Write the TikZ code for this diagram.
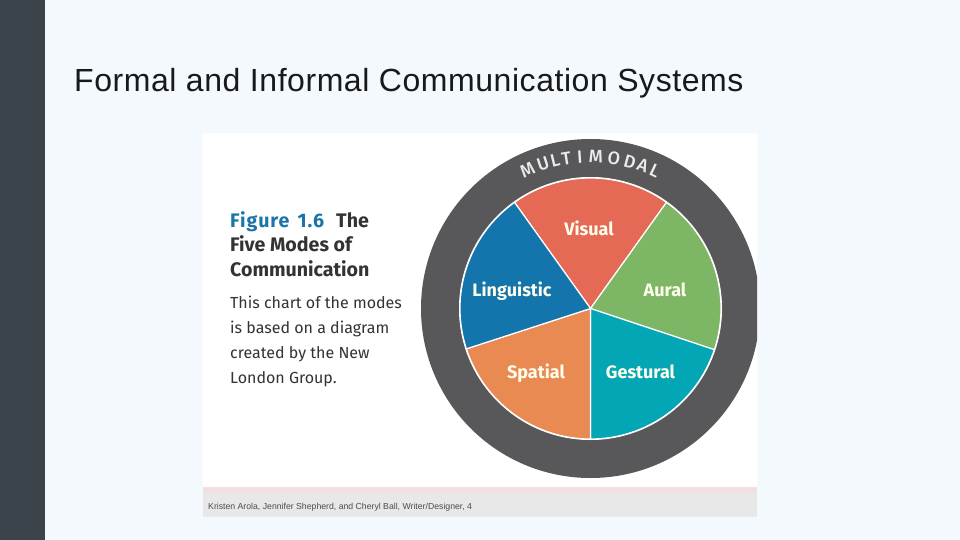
\documentclass[tikz,border=0pt]{standalone}
\usepackage{fontspec}
\usetikzlibrary{calc}
\setmainfont{Liberation Sans}
\newfontfamily\figfont{Fira Sans}
\newfontfamily\ringfont{Fira Sans Medium}
\definecolor{slidebg}{HTML}{F4F9FD}
\definecolor{sidebar}{HTML}{3B444B}
\definecolor{ringgrey}{HTML}{58585A}
\definecolor{visualred}{HTML}{E46A56}
\definecolor{auralgreen}{HTML}{7DB765}
\definecolor{gesturalteal}{HTML}{03A6B5}
\definecolor{spatialorange}{HTML}{E88A52}
\definecolor{linguisticblue}{HTML}{1474AC}
\definecolor{figblue}{HTML}{1B75A8}
\definecolor{figtext}{HTML}{333333}
\definecolor{bandpink}{HTML}{F3DFE1}
\definecolor{bandgrey}{HTML}{E8E8E9}
\tikzset{
  modelabel/.style={font=\figfont\fontsize{18}{18}\selectfont\bfseries,text=white!93!yellow,inner sep=0pt},
  wedge/.style={draw=white,line width=1.2pt},
  ringletter/.style={font=\ringfont\fontsize{18}{18}\selectfont,text=white!92!black,inner sep=0pt},
  figline/.style={anchor=base west,inner sep=0pt,text=figtext},
  headline/.style={figline,font=\figfont\fontsize{19.6}{19.6}\selectfont\bfseries},
  bodyline/.style={figline,font=\figfont\fontsize{16}{16}\selectfont},
}
\begin{document}
\begin{tikzpicture}[x=1pt,y=-1pt]
\useasboundingbox (0,0) rectangle (960,540);
\fill[slidebg] (0,0) rectangle (960,540);
\fill[sidebar] (0,0) rectangle (45,540);
\node[anchor=base west,inner sep=0pt,font=\fontsize{32}{32}\selectfont\addfontfeature{LetterSpace=1.75},text=black!90] (title) at (74,92) {Formal and Informal Communication Systems};
% picture area
\fill[white] (203,133) rectangle (757,487);
\fill[bandpink] (203,487) rectangle (757,493);
\fill[bandgrey] (203,493) rectangle (757,517);
\coordinate (O) at (590.5,308.5);
\begin{scope}
\clip (203,133) rectangle (757,487);
\fill[ringgrey] (O) circle[radius=169.5];
\end{scope}
\fill[white] (O) circle[radius=131.5];
\foreach \from/\to/\col in {54.4/125.6/visualred,-18.4/54.4/auralgreen,-90/-18.4/gesturalteal,-162/-90/spatialorange,125.6/198/linguisticblue}{
  \filldraw[wedge,fill=\col] (O) -- ($(O)+({130.5*cos(\from)},{-130.5*sin(\from)})$) arc[start angle=\from,end angle=\to,radius=130.5pt] -- cycle;
}
\node[modelabel] (visual) at (589,228) {Visual};
\node[modelabel] (aural) at (665,290) {Aural};
\node[modelabel] (linguistic) at (512,291) {Linguistic};
\node[modelabel] (spatial) at (536,373) {Spatial};
\node[modelabel] (gestural) at (640.5,372) {Gestural};
\foreach \ch/\ang [count=\i] in {M/114.5,U/108.2,L/103.5,T/99.1,I/94,M/88,O/81.1,D/75,A/69.8,L/64.9}{
  \node[ringletter,rotate=\ang-90] (ring\i) at ($(O)+({152*cos(\ang)},{-152*sin(\ang)})$) {\ch};
}
% caption
\node[headline,text=figblue,font=\figfont\fontsize{19.6}{19.6}\selectfont\bfseries\addfontfeature{LetterSpace=5}] (figno) at (230,227) {Figure\hspace{8pt}1.6};
\node[headline] (figthe) at (336,227) {The};
\node[headline] (fighead2) at (230,251) {Five Modes of};
\node[headline] (fighead3) at (230,276) {Communication};
\node[bodyline] (figbody1) at (230,308) {This chart of the modes};
\node[bodyline] (figbody2) at (230,333) {is based on a diagram};
\node[bodyline] (figbody3) at (230,358) {created by the New};
\node[bodyline] (figbody4) at (230,383) {London Group.};
\node[anchor=base west,inner sep=0pt,font=\fontsize{8.7}{8.7}\selectfont,text=black!70] (credit) at (208,509) {Kristen Arola, Jennifer Shepherd, and Cheryl Ball, Writer/Designer, 4};
\end{tikzpicture}
\end{document}
